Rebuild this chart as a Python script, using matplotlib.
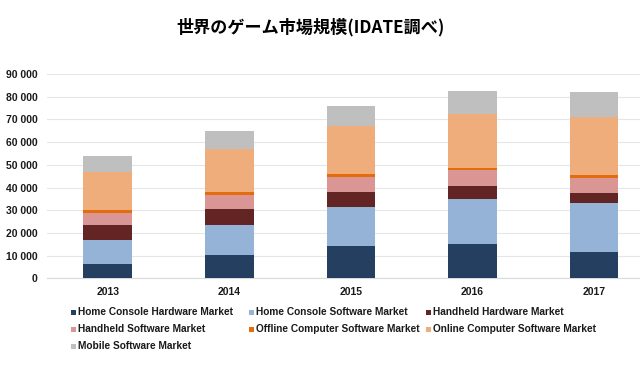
import numpy as np
import matplotlib
matplotlib.use("Agg")
import matplotlib.pyplot as plt
from matplotlib.patches import Rectangle
from matplotlib.ticker import FuncFormatter

# data (values per segment, stacked bottom -> top)
years = ["2013", "2014", "2015", "2016", "2017"]
home_console_hw = [6100, 10400, 14200, 15000, 11600]
home_console_sw = [10800, 13100, 17300, 20100, 21600]
handheld_hw = [6600, 6900, 6500, 5500, 4200]
handheld_sw = [5300, 6300, 6800, 7100, 6800]
offline_pc_sw = [1400, 1500, 1100, 1100, 1200]
online_pc_sw = [16800, 18800, 21300, 23600, 25800]
mobile_sw = [7000, 7900, 8800, 10000, 10900]

series_names = [
    "Home Console Hardware Market",
    "Home Console Software Market",
    "Handheld Hardware Market",
    "Handheld Software Market",
    "Offline Computer Software Market",
    "Online Computer Software Market",
    "Mobile Software Market",
]
series_values = [home_console_hw, home_console_sw, handheld_hw, handheld_sw,
                 offline_pc_sw, online_pc_sw, mobile_sw]
colors = ["#243f60", "#95b3d7", "#632523", "#d99694",
          "#e46c0a", "#f0ad7c", "#bfbfbf"]

title = "世界のゲーム市場規模(IDATE調べ)"

plt.rcParams["font.family"] = ["Liberation Sans", "DejaVu Sans"]

W, H = 640, 365
fig = plt.figure(figsize=(6.4, 3.65), dpi=100)
ax = fig.add_axes([47 / W, 1 - 278.3 / H, (W - 47) / W, (278.3 - 74) / H])

x = np.arange(len(years))
bottom = np.zeros(len(years))
for name, vals, col in zip(series_names, series_values, colors):
    vals = np.array(vals, dtype=float)
    ax.bar(x, vals, width=0.4, bottom=bottom, color=col, label=name, zorder=3)
    bottom += vals

ax.set_ylim(0, 90000)
ax.set_xlim(-0.5, 4.5 - 14.75 / 121.5)
ax.set_yticks(np.arange(0, 90001, 10000))
ax.yaxis.set_major_formatter(FuncFormatter(lambda v, _: f"{int(v):,}".replace(",", " ")))
ax.set_xticks(x)
ax.set_xticklabels(years)
ax.tick_params(axis="both", length=0, labelsize=7.5, colors="#1a1a1a")
ax.tick_params(axis="y", pad=7)
ax.tick_params(axis="x", pad=6)
for lbl in ax.get_xticklabels() + ax.get_yticklabels():
    lbl.set_fontweight("bold")

ax.grid(axis="y", color="#e6e6e6", linewidth=0.8, zorder=0)
for side in ["top", "right", "left"]:
    ax.spines[side].set_visible(False)
ax.spines["bottom"].set_color("#d9d9d9")
ax.spines["bottom"].set_linewidth(0.8)

fig.text(0.485, 1 - 27 / H, title, ha="center", va="center", fontsize=12.3,
         fontweight="bold", family=["Noto Sans CJK JP", "DejaVu Sans"])

# legend laid out on a fixed grid, row by row like the reference
col_x = [71, 249, 425.5]
row_y = [312, 329.5, 346]
for i, (name, col) in enumerate(zip(series_names, colors)):
    cx, cy = col_x[i % 3], row_y[i // 3]
    fig.patches.append(Rectangle((cx / W, 1 - (cy + 2.5) / H), 5 / W, 5 / H,
                                 facecolor=col, transform=fig.transFigure))
    fig.text((cx + 7.5) / W, 1 - cy / H, name, ha="left", va="center",
             fontsize=7.3, fontweight="bold", color="#1a1a1a")

fig.savefig("out.png", dpi=100)
